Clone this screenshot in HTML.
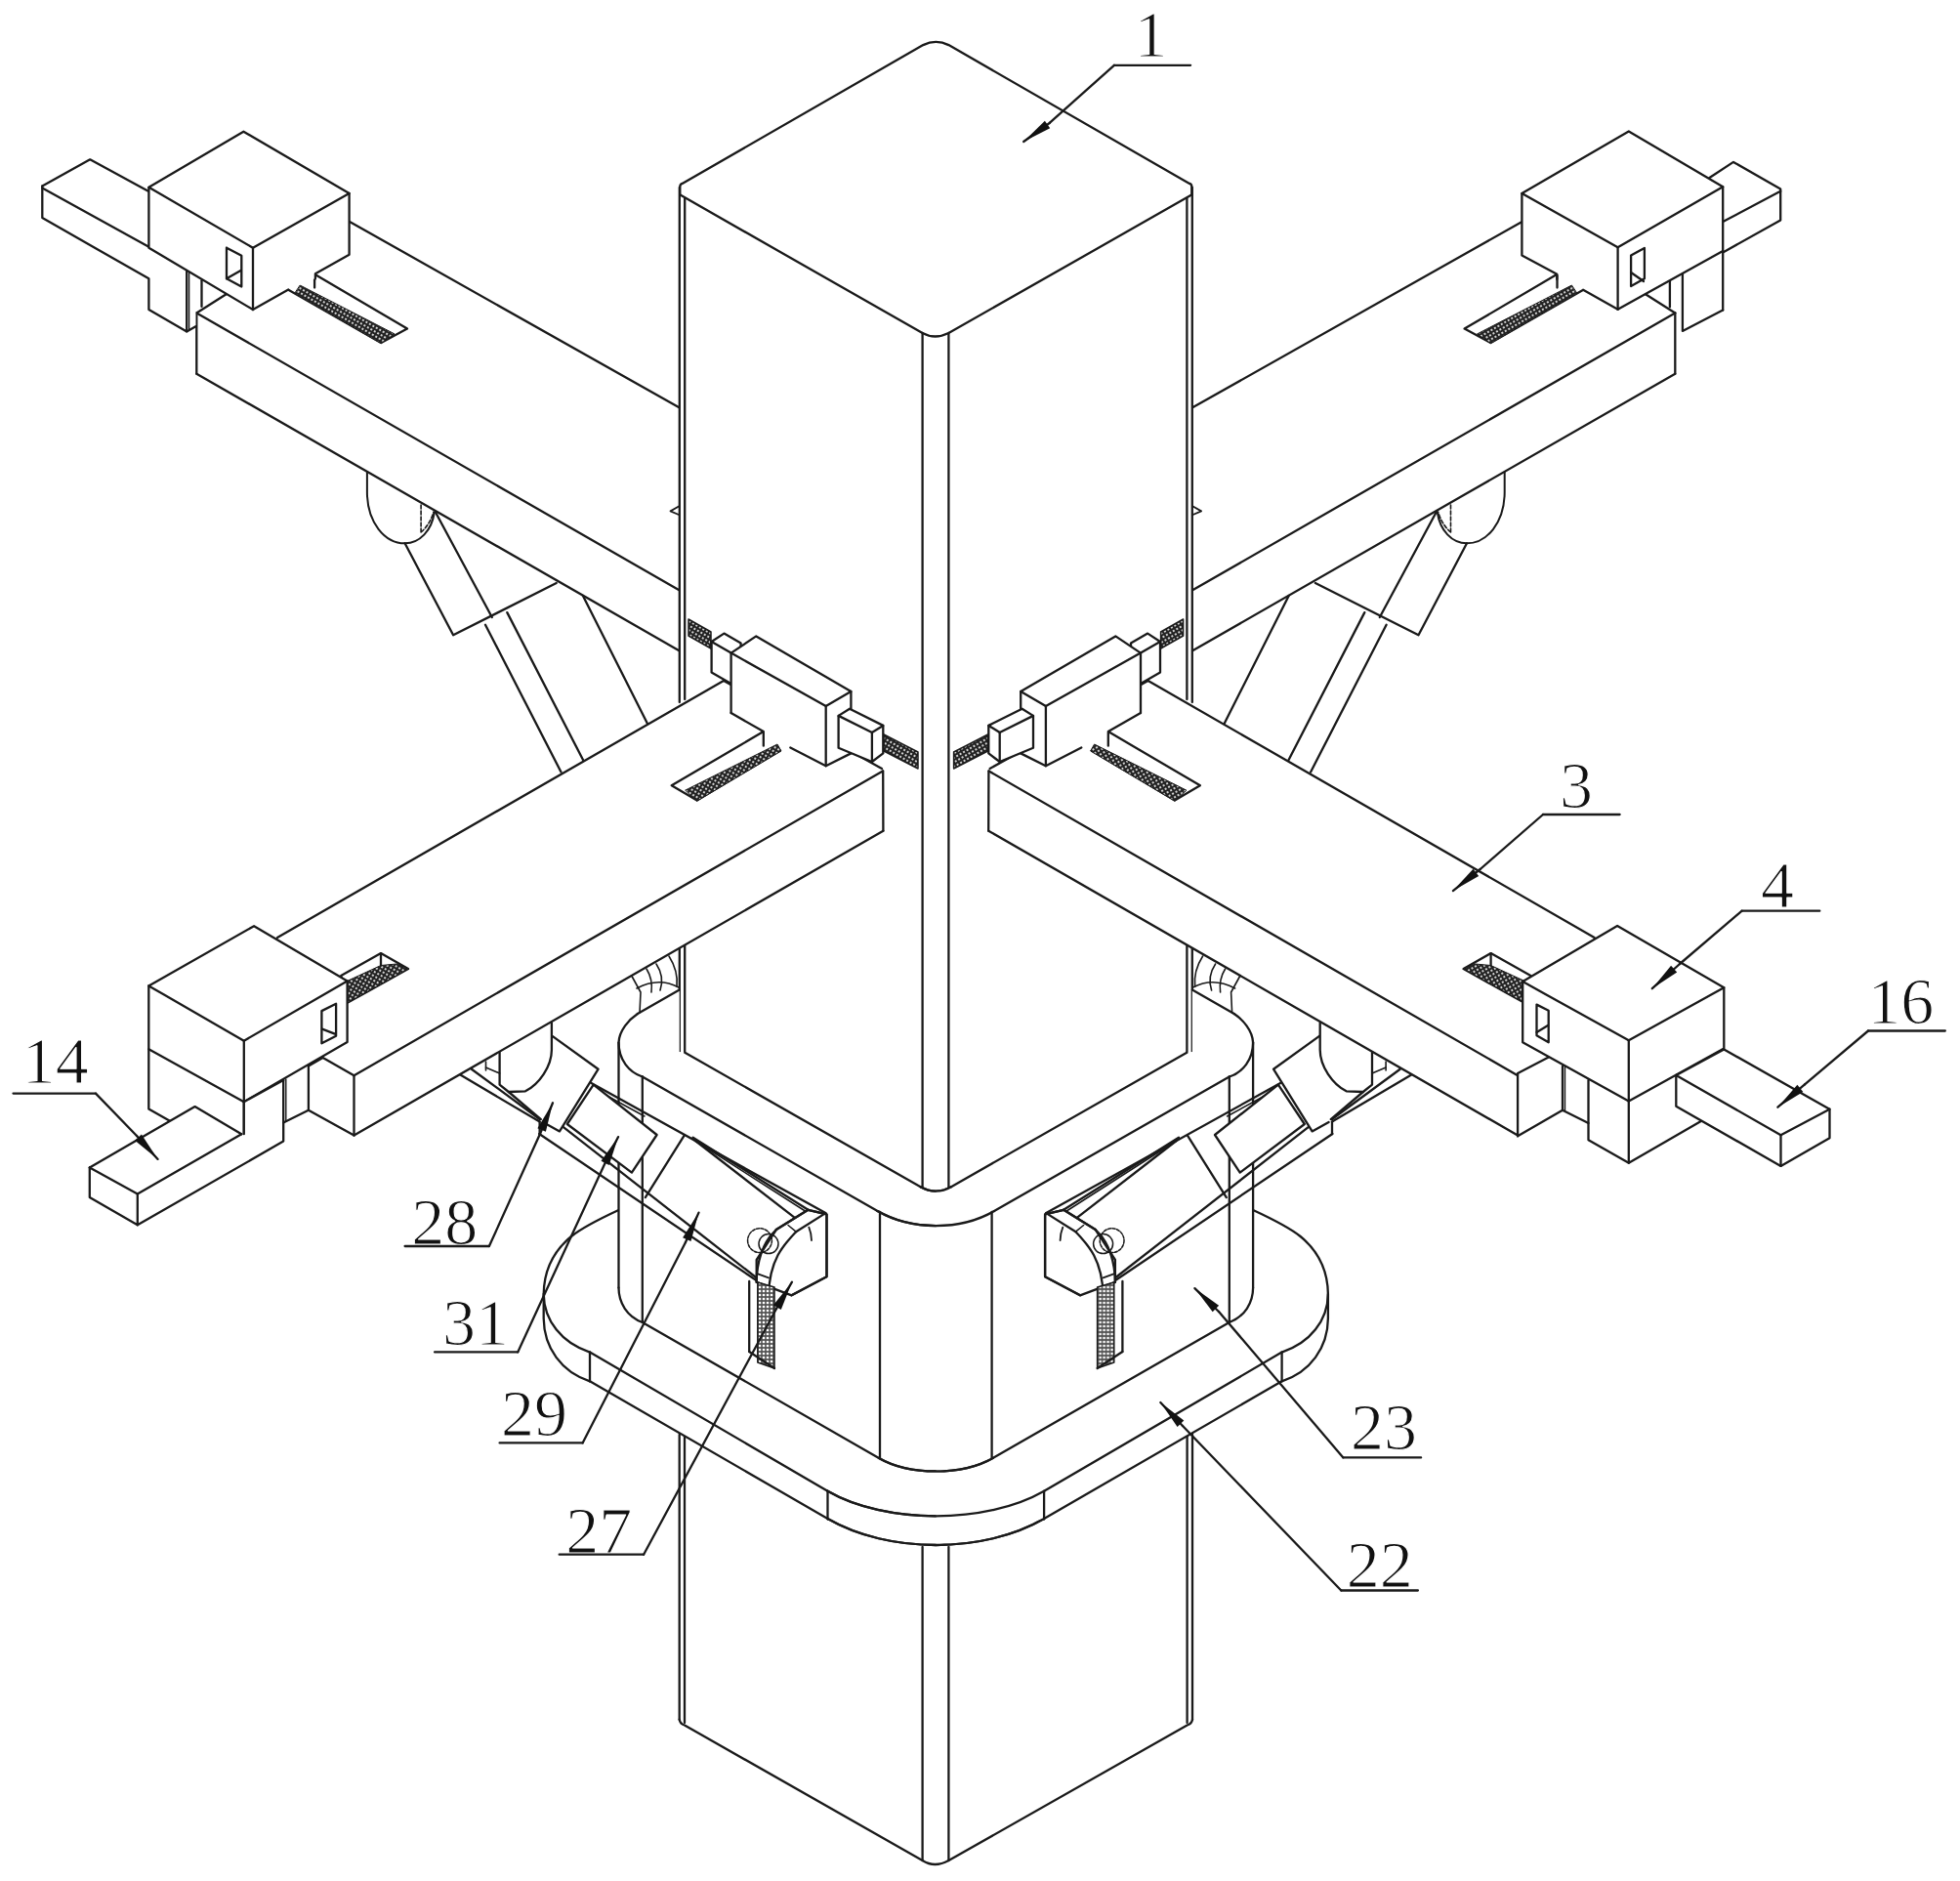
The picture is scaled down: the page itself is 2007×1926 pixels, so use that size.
<!DOCTYPE html>
<html><head><meta charset="utf-8"><style>
html,body{margin:0;padding:0;background:#fff;}
svg{display:block;}
text{font-family:"Liberation Serif",serif;font-size:68px;fill:#111;stroke:#fff;stroke-width:1.2px;paint-order:normal;}
</style></head><body>
<svg width="2007" height="1926" viewBox="0 0 2007 1926">
<rect width="2007" height="1926" fill="#fff"/>
<g fill="none" stroke="#1a1a1a" stroke-width="2.3" stroke-linejoin="round" stroke-linecap="round">
<defs><pattern id="hatch2" width="4" height="4" patternUnits="userSpaceOnUse"><rect width="4" height="4" fill="#555" stroke="none"/><circle cx="2" cy="2" r="1.35" fill="#fff" stroke="none"/></pattern><pattern id="hatch" width="4" height="4" patternUnits="userSpaceOnUse" patternTransform="rotate(-60)"><rect width="4" height="4" fill="#222" stroke="none"/><circle cx="2" cy="2" r="1.05" fill="#fff" stroke="none"/></pattern></defs>
<polygon points="358.0,227.0 695.0,417.0 695.0,666.0 201.3,382.7 201.3,320.5 232.0,301.0" fill="#fff" stroke="none"/>
<polyline points="358.0,227.0 695.0,417.0"/>
<polyline points="201.3,320.5 695.0,604.0"/>
<polyline points="201.3,382.7 695.0,666.0"/>
<polyline points="201.3,320.5 201.3,382.7"/>
<polyline points="201.3,320.5 232.0,301.0"/>
<polygon points="322.1,280.7 417.0,336.6 390.2,351.1 295.3,296.8" fill="#fff" stroke="none"/>
<polyline points="322.1,280.7 417.0,336.6 390.2,351.1 295.3,296.8"/>
<polygon points="307.5,292.2 404.0,341.9 390.2,351.6 302.0,300.5" fill="url(#hatch)" stroke-width="1.0"/>
<polyline points="322.1,280.7 322.1,294.5"/>
<path d="M375.9,483.5 L375.9,504 C376,535 394,556.3 414.6,556.3 C430,556.3 442,543 444.7,525" fill="none" stroke-width="2.0"/>
<path d="M431.1,517 L431.1,545 M431.1,545 C437,540 442,532 444,524" fill="none" stroke-width="1.6" stroke-dasharray="4,2"/>
<polyline points="414.6,556.3 464.1,650.3 569.7,597.0"/>
<polyline points="445.7,524.0 503.8,632.0"/>
<polyline points="497.0,639.7 574.5,790.5"/>
<polyline points="519.3,627.1 597.0,778.0"/>
<polyline points="596.9,610.0 663.0,741.0"/>
<g transform="matrix(-1,0,0,1,1916.6,0)">
<polygon points="358.0,227.0 695.0,417.0 695.0,666.0 201.3,382.7 201.3,320.5 232.0,301.0" fill="#fff" stroke="none"/>
<polyline points="358.0,227.0 695.0,417.0"/>
<polyline points="201.3,320.5 695.0,604.0"/>
<polyline points="201.3,382.7 695.0,666.0"/>
<polyline points="201.3,320.5 201.3,382.7"/>
<polyline points="201.3,320.5 232.0,301.0"/>
<polygon points="322.1,280.7 417.0,336.6 390.2,351.1 295.3,296.8" fill="#fff" stroke="none"/>
<polyline points="322.1,280.7 417.0,336.6 390.2,351.1 295.3,296.8"/>
<polygon points="307.5,292.2 404.0,341.9 390.2,351.6 302.0,300.5" fill="url(#hatch)" stroke-width="1.0"/>
<polyline points="322.1,280.7 322.1,294.5"/>
<path d="M375.9,483.5 L375.9,504 C376,535 394,556.3 414.6,556.3 C430,556.3 442,543 444.7,525" fill="none" stroke-width="2.0"/>
<path d="M431.1,517 L431.1,545 M431.1,545 C437,540 442,532 444,524" fill="none" stroke-width="1.6" stroke-dasharray="4,2"/>
<polyline points="414.6,556.3 464.1,650.3 569.7,597.0"/>
<polyline points="445.7,524.0 503.8,632.0"/>
<polyline points="497.0,639.7 574.5,790.5"/>
<polyline points="519.3,627.1 597.0,778.0"/>
<polyline points="596.9,610.0 663.0,741.0"/>
</g>
<polygon points="43.3,190.4 92.2,163.3 151.4,195.5 152.4,252.7 152.4,317.0 191.2,339.4 200.4,334.0 200.4,319.0 191.2,277.0 152.4,285.3 43.3,223.1" fill="#fff" stroke="none"/>
<polyline points="43.3,190.4 92.2,163.3 151.4,195.5"/>
<polyline points="43.3,192.4 152.4,252.7"/>
<polyline points="43.3,190.4 43.3,223.1 152.4,285.3 152.4,317.0 191.2,339.4 200.4,334.3"/>
<polyline points="191.2,277.0 191.2,339.4"/>
<polyline points="193.6,278.0 193.6,337.5" stroke-width="1.4"/>
<polyline points="206.5,287.3 206.5,313.9"/>
<polygon points="249.4,134.7 357.6,198.0 357.6,260.8 322.9,280.2 322.9,285.0 295.3,296.5 259.0,317.0 152.4,253.7 152.4,191.8" fill="#fff" stroke="none"/>
<polyline points="152.4,191.8 249.4,134.7 357.6,198.0 259.0,253.7 152.4,191.8"/>
<polyline points="259.0,253.7 259.0,317.0"/>
<polyline points="152.4,191.8 152.4,253.7 259.0,317.0"/>
<polyline points="357.6,198.0 357.6,260.8 322.9,280.2 322.9,285.5"/>
<polyline points="295.3,296.5 259.0,317.0"/>
<polyline points="232.0,253.7 247.3,261.8 247.3,293.5 232.0,285.3 232.0,253.7"/>
<polyline points="232.0,285.3 246.5,277.0"/>
<polygon points="1750.5,182.0 1775.0,165.9 1823.2,193.5 1823.2,225.6 1764.2,258.5 1764.2,191.2" fill="#fff" stroke="none"/>
<polyline points="1750.5,182.0 1775.0,165.9 1823.2,193.5 1823.2,225.6 1764.2,258.5"/>
<polyline points="1764.2,227.1 1823.2,195.8"/>
<polygon points="1764.2,257.0 1764.2,317.5 1722.9,338.9 1722.9,279.2" fill="#fff" stroke="none"/>
<polyline points="1722.9,279.2 1722.9,338.9 1764.2,317.5"/>
<polyline points="1709.9,286.8 1709.9,314.4"/>
<polygon points="1667.8,134.5 1764.2,191.2 1764.2,257.0 1656.6,316.7 1621.1,296.8 1594.3,280.7 1558.4,261.6 1558.4,198.1" fill="#fff" stroke="none"/>
<polyline points="1558.4,198.1 1667.8,134.5 1764.2,191.2 1656.6,253.2 1558.4,198.1"/>
<polyline points="1656.6,253.2 1656.6,316.7"/>
<polyline points="1764.2,191.2 1764.2,317.5"/>
<polyline points="1764.2,257.0 1656.6,316.7"/>
<polyline points="1558.4,198.1 1558.4,261.6 1594.3,280.7 1594.3,286.0"/>
<polyline points="1621.1,296.8 1656.6,316.7"/>
<polyline points="1670.1,261.6 1683.9,253.9 1683.9,285.3 1670.1,293.0 1670.1,261.6"/>
<polyline points="1670.1,279.0 1683.0,288.0"/>
<polygon points="696.0,190.0 945.0,46.0 958.0,43.0 971.0,46.0 1221.0,190.0 1221.0,1300.0 696.0,1300.0" fill="#fff" stroke="none"/>
<path d="M696.3,199.6 L696.3,191 Q696.5,188.5 698.6,187.9 L945.3,46.1 Q958.4,39.5 971.4,46.1 L1218,187.9 Q1220.3,188.5 1220.3,191 L1220.3,199.6" fill="none"/>
<path d="M696.5,199.6 L944.6,341 Q957.2,348 971.4,341 L1220.1,199.6" fill="none"/>
<polyline points="695.8,192.0 695.8,719.0"/>
<polyline points="701.2,203.0 701.2,716.0"/>
<polyline points="1220.8,192.0 1220.8,719.0"/>
<polyline points="1215.4,203.0 1215.4,716.0"/>
<polyline points="944.6,341.0 944.6,1217.0"/>
<polyline points="971.4,341.0 971.4,1217.0"/>
<polyline points="695.8,968.0 695.8,1077.0"/>
<polyline points="701.2,965.0 701.2,1077.0"/>
<polyline points="1220.8,968.0 1220.8,1077.0"/>
<polyline points="1215.4,965.0 1215.4,1077.0"/>
<polyline points="695.0,518.5 686.5,523.4 695.0,527.0" stroke-width="1.8"/>
<polyline points="1221.6,518.5 1230.1,523.4 1221.6,527.0" stroke-width="1.8"/>
<polygon points="695.7,1469.0 1221.0,1469.0 1221.0,1762.0 971.4,1905.0 957.0,1911.0 944.6,1905.0 695.7,1762.0" fill="#fff" stroke="none"/>
<polyline points="695.7,1469.0 695.7,1760.7"/>
<polyline points="701.0,1469.0 701.0,1764.0"/>
<polyline points="1221.0,1469.0 1221.0,1760.7"/>
<polyline points="1215.6,1469.0 1215.6,1764.0"/>
<polyline points="944.6,1584.0 944.6,1905.0"/>
<polyline points="971.4,1584.0 971.4,1905.0"/>
<path d="M695.7,1760.7 Q696.5,1765 701,1766.5 L944.6,1905 Q957,1913 971.4,1905 L1215.6,1766.5 Q1220.2,1765 1221,1760.7" fill="none"/>
<polygon points="633.5,1237.0 556.7,1325.0 556.7,1352.0 604.0,1414.3 847.5,1555.0 958.0,1582.0 958.0,1250.0 633.5,1250.0" fill="#fff" stroke="none"/>
<path d="M633.5,1239 C612,1249 596,1257 585,1266 C568,1280 557,1300 556.7,1325 C557,1352 575,1375 604,1384.6" fill="none"/>
<path d="M556.7,1325 L556.7,1350 C557,1380 575,1405 604,1414.3" fill="none"/>
<polyline points="604.0,1384.6 847.5,1526.8"/>
<polyline points="604.0,1414.3 847.5,1555.0"/>
<polyline points="604.0,1384.6 604.0,1414.3"/>
<polyline points="847.5,1526.8 847.5,1555.5"/>
<path d="M847.5,1526.8 C906.4,1560.8 1010.2,1560.8 1069.1,1526.8" fill="none"/>
<path d="M847.5,1555.0 C909.9,1591.0 1006.7,1591.0 1069.1,1555.0" fill="none"/>
<g transform="matrix(-1,0,0,1,1916.6,0)">
<polygon points="633.5,1237.0 556.7,1325.0 556.7,1352.0 604.0,1414.3 847.5,1555.0 958.0,1582.0 958.0,1250.0 633.5,1250.0" fill="#fff" stroke="none"/>
<path d="M633.5,1239 C612,1249 596,1257 585,1266 C568,1280 557,1300 556.7,1325 C557,1352 575,1375 604,1384.6" fill="none"/>
<path d="M556.7,1325 L556.7,1350 C557,1380 575,1405 604,1414.3" fill="none"/>
<polyline points="604.0,1384.6 847.5,1526.8"/>
<polyline points="604.0,1414.3 847.5,1555.0"/>
<polyline points="604.0,1384.6 604.0,1414.3"/>
<polyline points="847.5,1526.8 847.5,1555.5"/>
<path d="M847.5,1526.8 C906.4,1560.8 1010.2,1560.8 1069.1,1526.8" fill="none"/>
<path d="M847.5,1555.0 C909.9,1591.0 1006.7,1591.0 1069.1,1555.0" fill="none"/>
</g>
<polygon points="633.5,1067.6 652.9,1038.0 695.7,1013.5 695.7,1077.0 701.3,1077.8 942.6,1215.2 958.0,1220.0 958.0,1507.0 900.0,1493.0 657.4,1355.0 633.5,1318.6" fill="#fff" stroke="none"/>
<polyline points="652.9,1038.0 695.7,1013.5"/>
<path d="M652.9,1038 C644,1044 634,1055 633.5,1067.6 C633.5,1085 644,1098 657.8,1102.5" fill="none"/>
<polyline points="657.8,1102.5 898.6,1240.1"/>
<path d="M898.6,1240.1 C933.2,1260.1 983.3,1260.1 1017.9,1240.1" fill="none"/>
<polyline points="701.3,1077.8 942.6,1215.2"/>
<path d="M942.6,1215.2 Q958,1224 974,1215.2" fill="none"/>
<polyline points="633.5,1067.6 633.5,1318.6"/>
<polyline points="657.8,1102.5 657.8,1353.0"/>
<polyline points="901.0,1241.0 901.0,1493.0"/>
<path d="M633.5,1318.6 C633.5,1334 642,1348 657.8,1354" fill="none"/>
<polyline points="657.8,1354.0 900.0,1492.9"/>
<path d="M900.0,1492.9 C931.2,1510.9 985.4,1510.9 1016.6,1492.9" fill="none"/>
<g transform="matrix(-1,0,0,1,1916.6,0)">
<polygon points="633.5,1067.6 652.9,1038.0 695.7,1013.5 695.7,1077.0 701.3,1077.8 942.6,1215.2 958.0,1220.0 958.0,1507.0 900.0,1493.0 657.4,1355.0 633.5,1318.6" fill="#fff" stroke="none"/>
<polyline points="652.9,1038.0 695.7,1013.5"/>
<path d="M652.9,1038 C644,1044 634,1055 633.5,1067.6 C633.5,1085 644,1098 657.8,1102.5" fill="none"/>
<polyline points="657.8,1102.5 898.6,1240.1"/>
<path d="M898.6,1240.1 C933.2,1260.1 983.3,1260.1 1017.9,1240.1" fill="none"/>
<polyline points="701.3,1077.8 942.6,1215.2"/>
<path d="M942.6,1215.2 Q958,1224 974,1215.2" fill="none"/>
<polyline points="633.5,1067.6 633.5,1318.6"/>
<polyline points="657.8,1102.5 657.8,1353.0"/>
<polyline points="901.0,1241.0 901.0,1493.0"/>
<path d="M633.5,1318.6 C633.5,1334 642,1348 657.8,1354" fill="none"/>
<polyline points="657.8,1354.0 900.0,1492.9"/>
<path d="M900.0,1492.9 C931.2,1510.9 985.4,1510.9 1016.6,1492.9" fill="none"/>
</g>
<polyline points="471.8,1100.8 552.6,1148.6"/>
<polyline points="482.9,1094.7 552.6,1146.0"/>
<polyline points="520.8,1118.0 553.9,1146.1"/>
<polyline points="574.7,1152.4 776.7,1310.0"/>
<polyline points="552.2,1161.0 776.7,1312.5"/>
<polyline points="552.6,1148.6 552.6,1161.0"/>
<polyline points="605.5,1109.0 845.4,1242.1"/>
<polyline points="607.0,1114.0 660.0,1143.0" stroke-width="1.5"/>
<polyline points="709.6,1164.7 827.5,1238.8"/>
<polyline points="709.6,1166.5 826.0,1241.0" stroke-width="1.5"/>
<polyline points="712.0,1168.0 815.1,1247.8"/>
<polyline points="700.8,1162.4 660.8,1226.1"/>
<polygon points="607.7,1110.6 672.6,1162.0 646.9,1200.6 580.8,1151.0" fill="#fff"/>
<polygon points="564.9,1060.4 612.6,1094.7 573.0,1158.4 556.0,1149.0 560.0,1120.0 564.9,1100.0" fill="#fff" stroke="none"/>
<polyline points="564.9,1060.4 612.6,1094.7 573.0,1158.4 556.0,1149.0"/>
<path d="M511.6,1077.5 L511.6,1110.6 L520.8,1118 L538,1117.3 C552,1110 564.9,1092 564.9,1075 L564.9,1047.5" fill="#fff"/>
<polyline points="497.5,1087.0 497.5,1096.0" stroke-width="1.6"/>
<polyline points="497.5,1093.0 511.6,1099.0" stroke-width="1.6"/>
<polygon points="827.5,1238.8 846.5,1243.3 846.5,1307.2 810.6,1326.3 774.7,1312.9 774.7,1290.0 794.9,1259.0" fill="#fff"/>
<polyline points="827.5,1238.8 846.5,1243.3 846.5,1307.2 810.6,1326.3"/>
<polyline points="845.4,1242.1 815.1,1261.2"/>
<polyline points="827.5,1238.8 794.9,1259.0"/>
<polyline points="807.0,1254.5 815.1,1261.2" stroke-width="1.5"/>
<path d="M815.1,1261.2 C802,1275 788,1290 787,1326" fill="none"/>
<path d="M794.9,1259 C780,1272 774.7,1295 774.7,1312.9" fill="none"/>
<polyline points="774.7,1303.9 787.0,1308.4" stroke-width="1.8"/>
<path d="M828.3,1256.6 C830.5,1262 831,1267 831,1270" fill="none" stroke-width="1.8"/>
<path d="M765.6,1270.2 a12.4,12.4 0 1 0 24.8,0 a12.4,12.4 0 1 0 -24.8,0" fill="none" stroke-width="1.5" stroke-dasharray="3,1.5"/>
<path d="M777,1273.6 a10,10 0 1 0 20,0 a10,10 0 1 0 -20,0" fill="none" stroke-width="1.5"/>
<polygon points="775.8,1313.0 793.0,1318.0 793.0,1401.0 775.8,1395.0" fill="url(#hatch2)" stroke-width="1.5"/>
<polyline points="767.2,1312.0 767.2,1384.0"/>
<polyline points="767.2,1384.0 793.0,1401.0"/>
<polygon points="284.0,960.0 741.0,697.0 903.0,787.0 904.4,850.7 362.5,1162.5 362.5,1101.2 330.6,1082.9" fill="#fff" stroke="none"/>
<polyline points="284.0,960.0 741.0,697.0"/>
<polyline points="362.5,1101.2 904.0,789.5"/>
<polyline points="362.5,1162.5 904.4,850.7"/>
<polyline points="904.2,789.5 904.4,850.7"/>
<polyline points="741.0,697.0 903.0,787.0"/>
<polygon points="349.2,999.0 390.0,976.1 418.0,992.1 356.1,1026.6" fill="#fff"/>
<polygon points="356.5,1004.0 390.0,988.5 406.0,987.0 418.0,992.1 356.1,1026.6" fill="url(#hatch)" stroke-width="1.0"/>
<polyline points="390.0,976.1 390.0,988.5"/>
<polygon points="781.8,749.1 798.6,768.3 713.7,819.5 687.7,804.2" fill="#fff" stroke="none"/>
<polyline points="781.8,749.1 687.7,804.2 713.7,819.5 798.6,768.3"/>
<polygon points="702.0,809.0 796.0,762.0 800.0,769.0 714.0,820.0" fill="url(#hatch)" stroke-width="1.0"/>
<polyline points="781.8,749.1 781.8,763.7"/>
<polygon points="705.0,634.0 728.0,647.0 728.0,664.0 705.0,651.0" fill="url(#hatch)" stroke-width="1.5"/>
<polygon points="728.6,657.0 741.4,648.6 758.6,658.6 758.6,690.0 748.6,700.0 728.6,688.6" fill="#fff"/>
<polyline points="728.6,657.0 748.6,668.6"/>
<polygon points="748.6,668.6 774.3,651.4 871.4,708.0 871.4,771.4 845.7,784.3 800.0,760.0 781.8,749.1 748.6,730.0" fill="#fff" stroke="none"/>
<polyline points="748.6,730.0 748.6,668.6 774.3,651.4 871.4,708.0 871.4,771.4 845.7,784.3 809.3,765.5"/>
<polyline points="748.6,730.0 781.8,749.1"/>
<polyline points="748.6,668.6 845.7,722.9 871.4,708.0"/>
<polyline points="845.7,722.9 845.7,784.3"/>
<polygon points="858.6,732.9 870.0,725.7 904.3,742.9 904.3,771.4 892.9,780.0 858.6,765.7" fill="#fff"/>
<polyline points="858.6,732.9 892.9,750.0 904.3,742.9"/>
<polyline points="892.9,750.0 892.9,780.0"/>
<polygon points="905.0,752.0 940.0,770.0 940.0,787.0 905.0,769.0" fill="url(#hatch)" stroke-width="1.5"/>
<path d="M646.7,999 L656,1016 L655,1037" fill="none" stroke-width="1.6"/>
<path d="M662,992 C667,1000 668,1008 667,1016 M672,987 C678,996 679,1005 676,1014 M685,979 C692,990 694,1000 693,1010" fill="none" stroke-width="1.6"/>
<path d="M652,1012 C665,1005 680,1003 695,1011" fill="none" stroke-width="1.6"/>
<g transform="matrix(-1,0,0,1,1916.6,0)">
<polyline points="471.8,1100.8 552.6,1148.6"/>
<polyline points="482.9,1094.7 552.6,1146.0"/>
<polyline points="520.8,1118.0 553.9,1146.1"/>
<polyline points="574.7,1152.4 776.7,1310.0"/>
<polyline points="552.2,1161.0 776.7,1312.5"/>
<polyline points="552.6,1148.6 552.6,1161.0"/>
<polyline points="605.5,1109.0 845.4,1242.1"/>
<polyline points="607.0,1114.0 660.0,1143.0" stroke-width="1.5"/>
<polyline points="709.6,1164.7 827.5,1238.8"/>
<polyline points="709.6,1166.5 826.0,1241.0" stroke-width="1.5"/>
<polyline points="712.0,1168.0 815.1,1247.8"/>
<polyline points="700.8,1162.4 660.8,1226.1"/>
<polygon points="607.7,1110.6 672.6,1162.0 646.9,1200.6 580.8,1151.0" fill="#fff"/>
<polygon points="564.9,1060.4 612.6,1094.7 573.0,1158.4 556.0,1149.0 560.0,1120.0 564.9,1100.0" fill="#fff" stroke="none"/>
<polyline points="564.9,1060.4 612.6,1094.7 573.0,1158.4 556.0,1149.0"/>
<path d="M511.6,1077.5 L511.6,1110.6 L520.8,1118 L538,1117.3 C552,1110 564.9,1092 564.9,1075 L564.9,1047.5" fill="#fff"/>
<polyline points="497.5,1087.0 497.5,1096.0" stroke-width="1.6"/>
<polyline points="497.5,1093.0 511.6,1099.0" stroke-width="1.6"/>
<polygon points="827.5,1238.8 846.5,1243.3 846.5,1307.2 810.6,1326.3 774.7,1312.9 774.7,1290.0 794.9,1259.0" fill="#fff"/>
<polyline points="827.5,1238.8 846.5,1243.3 846.5,1307.2 810.6,1326.3"/>
<polyline points="845.4,1242.1 815.1,1261.2"/>
<polyline points="827.5,1238.8 794.9,1259.0"/>
<polyline points="807.0,1254.5 815.1,1261.2" stroke-width="1.5"/>
<path d="M815.1,1261.2 C802,1275 788,1290 787,1326" fill="none"/>
<path d="M794.9,1259 C780,1272 774.7,1295 774.7,1312.9" fill="none"/>
<polyline points="774.7,1303.9 787.0,1308.4" stroke-width="1.8"/>
<path d="M828.3,1256.6 C830.5,1262 831,1267 831,1270" fill="none" stroke-width="1.8"/>
<path d="M765.6,1270.2 a12.4,12.4 0 1 0 24.8,0 a12.4,12.4 0 1 0 -24.8,0" fill="none" stroke-width="1.5" stroke-dasharray="3,1.5"/>
<path d="M777,1273.6 a10,10 0 1 0 20,0 a10,10 0 1 0 -20,0" fill="none" stroke-width="1.5"/>
<polygon points="775.8,1313.0 793.0,1318.0 793.0,1401.0 775.8,1395.0" fill="url(#hatch2)" stroke-width="1.5"/>
<polyline points="767.2,1312.0 767.2,1384.0"/>
<polyline points="767.2,1384.0 793.0,1401.0"/>
<polygon points="284.0,960.0 741.0,697.0 903.0,787.0 904.4,850.7 362.5,1162.5 362.5,1101.2 330.6,1082.9" fill="#fff" stroke="none"/>
<polyline points="284.0,960.0 741.0,697.0"/>
<polyline points="362.5,1101.2 904.0,789.5"/>
<polyline points="362.5,1162.5 904.4,850.7"/>
<polyline points="904.2,789.5 904.4,850.7"/>
<polyline points="741.0,697.0 903.0,787.0"/>
<polygon points="349.2,999.0 390.0,976.1 418.0,992.1 356.1,1026.6" fill="#fff"/>
<polygon points="356.5,1004.0 390.0,988.5 406.0,987.0 418.0,992.1 356.1,1026.6" fill="url(#hatch)" stroke-width="1.0"/>
<polyline points="390.0,976.1 390.0,988.5"/>
<polygon points="781.8,749.1 798.6,768.3 713.7,819.5 687.7,804.2" fill="#fff" stroke="none"/>
<polyline points="781.8,749.1 687.7,804.2 713.7,819.5 798.6,768.3"/>
<polygon points="702.0,809.0 796.0,762.0 800.0,769.0 714.0,820.0" fill="url(#hatch)" stroke-width="1.0"/>
<polyline points="781.8,749.1 781.8,763.7"/>
<polygon points="705.0,634.0 728.0,647.0 728.0,664.0 705.0,651.0" fill="url(#hatch)" stroke-width="1.5"/>
<polygon points="728.6,657.0 741.4,648.6 758.6,658.6 758.6,690.0 748.6,700.0 728.6,688.6" fill="#fff"/>
<polyline points="728.6,657.0 748.6,668.6"/>
<polygon points="748.6,668.6 774.3,651.4 871.4,708.0 871.4,771.4 845.7,784.3 800.0,760.0 781.8,749.1 748.6,730.0" fill="#fff" stroke="none"/>
<polyline points="748.6,730.0 748.6,668.6 774.3,651.4 871.4,708.0 871.4,771.4 845.7,784.3 809.3,765.5"/>
<polyline points="748.6,730.0 781.8,749.1"/>
<polyline points="748.6,668.6 845.7,722.9 871.4,708.0"/>
<polyline points="845.7,722.9 845.7,784.3"/>
<polygon points="858.6,732.9 870.0,725.7 904.3,742.9 904.3,771.4 892.9,780.0 858.6,765.7" fill="#fff"/>
<polyline points="858.6,732.9 892.9,750.0 904.3,742.9"/>
<polyline points="892.9,750.0 892.9,780.0"/>
<polygon points="905.0,752.0 940.0,770.0 940.0,787.0 905.0,769.0" fill="url(#hatch)" stroke-width="1.5"/>
<path d="M646.7,999 L656,1016 L655,1037" fill="none" stroke-width="1.6"/>
<path d="M662,992 C667,1000 668,1008 667,1016 M672,987 C678,996 679,1005 676,1014 M685,979 C692,990 694,1000 693,1010" fill="none" stroke-width="1.6"/>
<path d="M652,1012 C665,1005 680,1003 695,1011" fill="none" stroke-width="1.6"/>
</g>
<polygon points="260.1,948.2 355.6,1004.5 355.6,1067.0 249.8,1128.2 249.8,1161.2 173.9,1147.8 152.3,1135.5 152.3,1009.4" fill="#fff" stroke="none"/>
<polyline points="152.3,1009.4 260.1,948.2 355.6,1004.5 249.8,1065.7 152.3,1009.4"/>
<polyline points="152.3,1009.4 152.3,1135.5 173.9,1147.8"/>
<polyline points="152.3,1074.3 249.8,1128.2"/>
<polyline points="249.8,1065.7 249.8,1161.2"/>
<polyline points="355.6,1004.5 355.6,1067.0 249.8,1128.2"/>
<polyline points="329.4,1035.1 344.1,1027.8 344.1,1060.8 329.4,1068.2 329.4,1035.1"/>
<polyline points="329.9,1053.6 342.9,1058.6"/>
<polygon points="91.8,1195.5 199.6,1133.1 247.3,1161.2 249.8,1160.0 249.8,1128.2 290.2,1106.1 290.2,1168.6 140.8,1254.3 91.8,1226.1" fill="#fff" stroke="none"/>
<polyline points="91.8,1195.5 199.6,1133.1 247.3,1161.2"/>
<polyline points="91.8,1195.5 140.8,1222.5 247.3,1161.2"/>
<polyline points="91.8,1195.5 91.8,1226.1 140.8,1254.3 140.8,1222.5"/>
<polyline points="140.8,1254.3 290.2,1168.6 290.2,1106.1"/>
<polyline points="249.8,1128.2 290.2,1106.1"/>
<polyline points="249.8,1128.2 249.8,1161.2"/>
<polyline points="292.8,1105.0 292.8,1148.0" stroke-width="1.4"/>
<polyline points="290.2,1149.5 315.9,1136.7"/>
<polyline points="315.9,1091.4 315.9,1136.7 362.5,1162.5"/>
<polyline points="315.9,1091.4 330.6,1082.9 362.5,1101.2"/>
<polyline points="362.5,1101.2 362.5,1162.5"/>
<polygon points="1554.1,1099.0 1585.7,1082.6 1600.0,1091.8 1626.5,1106.1 1626.5,1167.3 1667.8,1190.8 1741.8,1148.0 1716.3,1132.7 1716.3,1101.0 1765.3,1074.5 1765.3,1011.2 1656.1,948.0 1559.2,1005.1 1559.2,1067.3 1554.1,1070.0 1554.1,1163.3 1600.0,1136.7" fill="#fff" stroke="none"/>
<polyline points="1554.1,1099.0 1585.7,1082.6"/>
<polyline points="1554.1,1099.5 1554.1,1163.3"/>
<polyline points="1554.1,1163.3 1600.0,1136.7 1626.5,1150.0"/>
<polyline points="1600.0,1091.8 1600.0,1136.7"/>
<polyline points="1602.5,1092.5 1602.5,1137.0" stroke-width="1.4"/>
<polyline points="1626.5,1106.1 1626.5,1167.3 1667.8,1190.8 1741.8,1148.0"/>
<polyline points="1559.2,1005.1 1656.1,948.0 1765.3,1011.2 1667.8,1065.3 1559.2,1005.1"/>
<polyline points="1559.2,1005.1 1559.2,1067.3 1667.8,1127.6"/>
<polyline points="1667.8,1065.3 1667.8,1190.8"/>
<polyline points="1765.3,1011.2 1765.3,1073.5 1667.8,1127.6"/>
<polyline points="1573.5,1028.6 1585.7,1034.7 1585.7,1067.3 1573.5,1060.2 1573.5,1028.6"/>
<polyline points="1573.5,1057.0 1585.0,1050.0"/>
<polygon points="1716.3,1101.0 1765.3,1074.5 1873.5,1135.7 1873.5,1165.3 1823.5,1193.9 1716.3,1132.7" fill="#fff" stroke="none"/>
<polyline points="1716.3,1101.0 1765.3,1074.5 1873.5,1135.7 1823.5,1162.2 1716.3,1101.0"/>
<polyline points="1716.3,1101.0 1716.3,1132.7 1823.5,1193.9 1873.5,1165.3 1873.5,1135.7"/>
<polyline points="1823.5,1162.2 1823.5,1193.9"/>
<text x="1161.6" y="57.6">1</text>
<polyline points="1140.9,66.8 1219.1,66.8"/>
<polyline points="1140.9,66.8 1075.0,125.7"/>
<polyline points="1075.0,125.7 1048.2,145.0"/>
<polygon points="1048.2,145.0 1069.9,123.7 1075.2,131.2" fill="#111" stroke="none"/>
<text x="1596.9" y="826.7">3</text>
<polyline points="1580.0,834.0 1658.6,834.0"/>
<polyline points="1580.0,834.0 1515.7,890.0"/>
<polyline points="1515.7,890.0 1487.9,912.1"/>
<polygon points="1487.9,912.1 1508.5,889.8 1514.2,897.0" fill="#111" stroke="none"/>
<text x="1803.1" y="929.1">4</text>
<polyline points="1783.7,932.7 1863.3,932.7"/>
<polyline points="1783.7,932.7 1720.0,987.0"/>
<polyline points="1720.0,987.0 1691.8,1012.2"/>
<polygon points="1691.8,1012.2 1711.1,988.8 1717.2,995.6" fill="#111" stroke="none"/>
<text x="1912.2" y="1048.0">16</text>
<polyline points="1913.0,1055.5 1991.8,1055.5"/>
<polyline points="1913.0,1055.5 1848.0,1110.4"/>
<polyline points="1848.0,1110.4 1820.4,1133.7"/>
<polygon points="1820.4,1133.7 1840.4,1110.8 1846.3,1117.9" fill="#111" stroke="none"/>
<text x="22.8" y="1109.3">14</text>
<polyline points="13.5,1119.6 98.0,1119.6"/>
<polyline points="98.0,1119.6 140.0,1163.0"/>
<polyline points="140.0,1163.0 161.6,1186.9"/>
<polygon points="161.6,1186.9 138.1,1167.7 144.9,1161.6" fill="#111" stroke="none"/>
<text x="421.2" y="1273.8">28</text>
<polyline points="414.6,1276.0 500.9,1276.0"/>
<polyline points="500.9,1276.0 553.0,1161.0"/>
<polyline points="553.0,1161.0 566.0,1129.2"/>
<polygon points="566.0,1129.2 558.9,1158.7 550.4,1155.2" fill="#111" stroke="none"/>
<text x="453.1" y="1377.4">31</text>
<polyline points="445.1,1384.4 530.2,1384.4"/>
<polyline points="530.2,1384.4 620.0,1190.0"/>
<polyline points="620.0,1190.0 633.1,1164.1"/>
<polygon points="633.1,1164.1 623.7,1192.9 615.5,1188.8" fill="#111" stroke="none"/>
<text x="512.9" y="1470.4">29</text>
<polyline points="511.6,1477.4 596.6,1477.4"/>
<polyline points="596.6,1477.4 702.0,1272.0"/>
<polyline points="702.0,1272.0 715.5,1241.6"/>
<polygon points="715.5,1241.6 707.5,1270.9 699.1,1267.2" fill="#111" stroke="none"/>
<text x="579.3" y="1589.7">27</text>
<polyline points="572.7,1591.7 659.1,1591.7"/>
<polyline points="659.1,1591.7 795.0,1340.0"/>
<polyline points="795.0,1340.0 811.0,1312.7"/>
<polygon points="811.0,1312.7 799.8,1340.9 791.9,1336.3" fill="#111" stroke="none"/>
<text x="1383.1" y="1484.4">23</text>
<polyline points="1375.4,1492.4 1455.1,1492.4"/>
<polyline points="1375.4,1492.4 1248.0,1343.0"/>
<polyline points="1248.0,1343.0 1223.4,1319.1"/>
<polygon points="1223.4,1319.1 1248.1,1336.7 1241.7,1343.3" fill="#111" stroke="none"/>
<text x="1378.8" y="1625.2">22</text>
<polyline points="1373.3,1628.5 1451.9,1628.5"/>
<polyline points="1373.3,1628.5 1211.0,1460.0"/>
<polyline points="1211.0,1460.0 1188.3,1436.0"/>
<polygon points="1188.3,1436.0 1212.3,1454.6 1205.6,1461.0" fill="#111" stroke="none"/>
</g>
</svg>
</body></html>
